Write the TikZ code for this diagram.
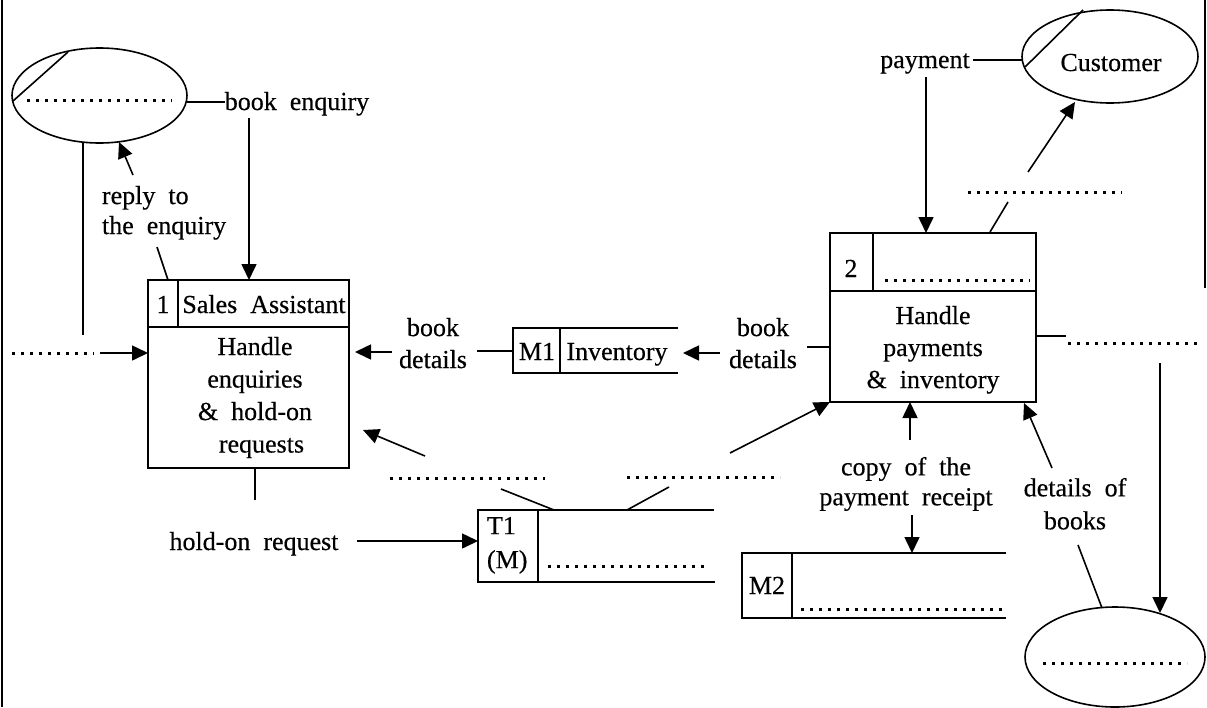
\documentclass[tikz,border=0pt]{standalone}
\usepackage{fontspec}
\setmainfont{Liberation Serif}[WordSpace=2, FakeBold=0.4]
\usetikzlibrary{arrows.meta,shapes.geometric,calc}
\begin{document}
\begin{tikzpicture}[x=1pt,y=-1pt,line width=1.6pt,
  every node/.style={font=\fontsize{26}{32}\selectfont, inner sep=0pt, outer sep=0pt},
  arr/.style={-{Triangle[length=16pt,width=15pt]}},
  dots/.style={line width=3pt, dash pattern=on 3pt off 6pt},
  ext/.style={draw, ellipse, line width=1.6pt},
  proc/.style={draw, anchor=north west},
  lbl/.style={align=center, anchor=north},
  txt/.style={anchor=base}]
\useasboundingbox (0,0) rectangle (1207,707);
% page borders
\draw (2,0) -- (2,707);
\draw (1205,0) -- (1205,288);

% ---------- external entities ----------
\node[ext, minimum width=175pt, minimum height=95pt] (e1) at (99.5,95.5) {};
\draw (13,101) -- (68,52);
\draw[dots] (27,100) -- (172,100);

\node[ext, minimum width=176pt, minimum height=93pt] (cust) at (1110,56.5) {};
\draw (1025,67) -- (1083,10);
\node[txt] (custt) at (1111,71) {Customer};

\node[ext, minimum width=180pt, minimum height=100pt] (e3) at (1115,657) {};
\draw[dots] (1043,663) -- (1187,663);

% ---------- process 1 ----------
\node[proc, minimum width=201pt, minimum height=188pt] (p1) at (148,280) {};
\draw (148,327) -- (349,327);
\draw (178,280) -- (178,327);
\node[txt] (p1n) at (163,313) {1};
\node[txt] (p1r) at (264,313) {Sales Assistant};
\node[lbl, font=\fontsize{26}{32.5}\selectfont] (p1b) at (255,337) {Handle\\enquiries\\\& hold-on\\\ requests};

% ---------- process 2 ----------
\node[proc, minimum width=206pt, minimum height=169pt] (p2) at (830,233) {};
\draw (830,291) -- (1036,291);
\draw (873,233) -- (873,291);
\node[txt] (p2n) at (851,277) {2};
\draw[dots] (885,280) -- (1030,280);
\node[lbl] (p2b) at (933,306) {Handle\\payments\\\& inventory};

% ---------- data stores ----------
\node[proc, minimum width=47pt, minimum height=45pt] (m1) at (513,328) {};
\draw (560,328) -- (678,328);
\draw (560,373) -- (678,373);
\draw (560,328) -- (560,373);
\node[txt] (m1n) at (537,360) {M1};
\node[txt] (m1t) at (617,360) {Inventory};

\node[proc, minimum width=60pt, minimum height=72pt] (t1) at (478,510) {};
\draw (538,510) -- (714,510);
\draw (538,582) -- (715,582);
\node[anchor=north west, align=left, font=\fontsize{26}{34}\selectfont] (t1n) at (487,517) {T1\\(M)};
\draw[dots] (548,566) -- (708,566);

\node[proc, minimum width=50pt, minimum height=65pt] (m2) at (742,553) {};
\draw (792,553) -- (1006,553);
\draw (792,618) -- (1006,618);
\draw (792,553) -- (792,618);
\node[txt] (m2n) at (767,594) {M2};
\draw[dots] (801,609) -- (1003,609);

% ---------- labels ----------
\node[txt] (be) at (297,110) {book enquiry};
\node[anchor=north west, align=left, font=\fontsize{26}{30}\selectfont] (rep) at (102,186) {reply to\\the enquiry};
\node[lbl] (bd1) at (433,318) {book\\details};
\node[lbl] (bd2) at (763,318) {book\\details};
\node[txt] (hr) at (254,550) {hold-on request};
\node[txt] (pay) at (925,68) {payment};
\node[lbl, font=\fontsize{26}{30}\selectfont] (cp) at (906,457) {copy of the\\payment receipt};
\node[lbl, font=\fontsize{26}{33}\selectfont] (db) at (1075,478) {details of\\books};

% dotted placeholder labels
\coordinate (dl1w) at (12,353); \coordinate (dl1e) at (94,353);
\draw[dots] (dl1w) -- (dl1e);
\coordinate (dl2w) at (390,478); \coordinate (dl2e) at (545,478);
\draw[dots] (dl2w) -- (dl2e);
\coordinate (dl3w) at (627,477); \coordinate (dl3e) at (780,477);
\draw[dots] (dl3w) -- (dl3e);
\coordinate (dl4w) at (968,192); \coordinate (dl4e) at (1122,192);
\draw[dots] (dl4w) -- (dl4e);
\coordinate (dl5w) at (1068,343); \coordinate (dl5e) at (1197,343);
\draw[dots] (dl5w) -- (dl5e);

% ---------- connectors ----------
% book enquiry
\draw (187,102) -- (be.west |- 0,102);
\draw[arr] (249,118) -- (p1.north -| 249,0);
% reply to the enquiry
\draw[arr] (133,175) -- (119,142);
\draw (157,247) -- (168,280);
% left dotted flow
\draw (83,142) -- (83,335);
\draw[arr] (100,353) -- (p1.west |- 0,353);
% book details M1 -> p1
\draw (477,351) -- (m1.west |- 0,351);
\draw[arr] (392,352) -- (355,352);
% book details p2 -> M1
\draw (807,347) -- (p2.west |- 0,347);
\draw[arr] (720,353) -- (683,353);
% hold-on request
\draw (p1.south -| 255,0) -- (255,500);
\draw[arr] (357,541) -- (t1.west |- 0,541);
% T1 -> p1
\draw (554,510) -- (501,489);
\draw[arr] (425,456) -- (363,430);
% T1 -> p2
\draw (627,510) -- (669,487);
\draw[arr] (730,453) -- (p2.south west);
% payment
\draw (973,60) -- (1022,60);
\draw[arr] (926,77) -- (p2.north -| 926,0);
% p2 -> customer
\draw (990,232) -- (1008,202);
\draw[arr] (1028,172) -- (1075,102);
% p2 -> right dotted -> e3
\draw (1036,336) -- (1066,336);
\draw[arr] (1160,363) -- (1160,613);
% copy of payment receipt
\draw[arr] (910,440) -- (p2.south -| 910,0);
\draw[arr] (912,515) -- (m2.north -| 912,0);
% details of books
\draw[arr] (1052,468) -- (1024,403);
\draw (1078,545) -- (1102,608);
\end{tikzpicture}
\end{document}
